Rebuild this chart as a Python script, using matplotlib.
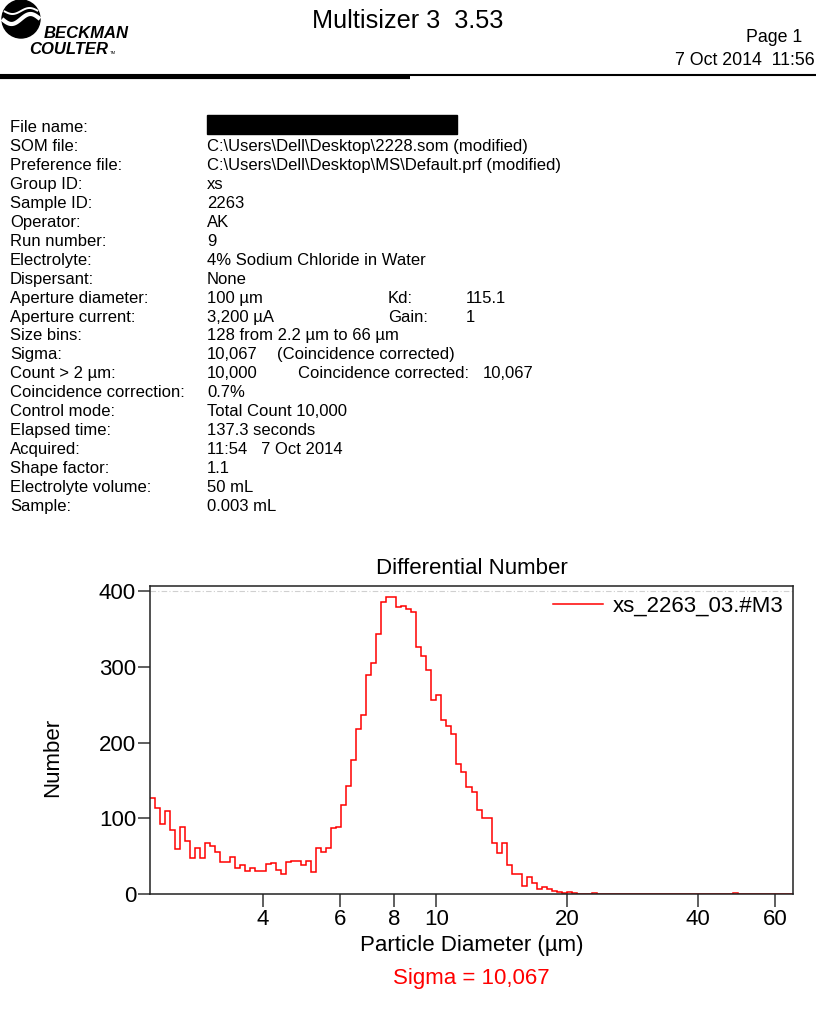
import numpy as np
import matplotlib
matplotlib.use("Agg")
import matplotlib.pyplot as plt
from matplotlib.patches import Circle, Rectangle
from matplotlib.ticker import FixedLocator, FixedFormatter, NullLocator

plt.rcParams['font.family'] = ['Liberation Sans', 'DejaVu Sans']

# ---------------- data ----------------
size_min, size_max, n_bins = 2.2, 66.0, 128
counts = [127, 113, 92, 110, 85, 60, 89, 70, 48, 61,
          47, 67, 64, 55, 42, 42, 49, 35, 38, 31,
          34, 30, 31, 40, 41, 32, 26, 42, 43, 44,
          38, 43, 29, 61, 56, 61, 87, 88, 118, 143,
          177, 218, 236, 289, 305, 344, 386, 393, 392, 379,
          380, 377, 373, 326, 315, 296, 256, 263, 230, 222,
          211, 172, 161, 142, 135, 111, 100, 101, 68, 54,
          68, 38, 26, 26, 11, 22, 15, 7, 9, 7,
          4, 3, 1, 2, 1, 0, 0, 0, 1, 0,
          0, 0, 0, 0, 0, 0, 0, 0, 0, 0,
          0, 0, 0, 0, 0, 0, 0, 0, 0, 0,
          0, 0, 0, 0, 0, 0, 1, 0, 0, 0,
          0, 0, 0, 0, 0, 0, 0, 0]
x_ticks = [4, 6, 8, 10, 20, 40, 60]
y_ticks = [0, 100, 200, 300, 400]
series_name = "xs_2263_03.#M3"
sigma_text = "Sigma = 10,067"

info_labels = ["File name:", "SOM file:", "Preference file:", "Group ID:", "Sample ID:",
               "Operator:", "Run number:", "Electrolyte:", "Dispersant:",
               "Aperture diameter:", "Aperture current:", "Size bins:", "Sigma:",
               "Count > 2 µm:", "Coincidence correction:", "Control mode:",
               "Elapsed time:", "Acquired:", "Shape factor:", "Electrolyte volume:",
               "Sample:"]
info_values = ["", "C:\\Users\\Dell\\Desktop\\2228.som (modified)",
               "C:\\Users\\Dell\\Desktop\\MS\\Default.prf (modified)",
               "xs", "2263", "AK", "9", "4% Sodium Chloride in Water", "None",
               "100 µm", "3,200 µA", "128 from 2.2 µm to 66 µm", "10,067",
               "10,000", "0.7%", "Total Count 10,000", "137.3 seconds",
               "11:54   7 Oct 2014", "1.1", "50 mL", "0.003 mL"]

# ---------------- figure ----------------
W, H = 816, 1013
fig = plt.figure(figsize=(W / 100, H / 100), dpi=100)
fig.patch.set_facecolor('white')

ov = fig.add_axes([0, 0, 1, 1])
ov.set_xlim(0, W)
ov.set_ylim(H, 0)
ov.axis('off')

# logo
ov.add_patch(Circle((21, 19), 19, color='black', zorder=2))
t = np.linspace(-19, 19, 100)
ov.plot(t + 21, 19 - 5 * np.sin(t / 19 * np.pi), color='white', lw=3.0, zorder=3, solid_capstyle='butt')
ov.plot(t * 0.9 + 21, 11 - 3 * np.sin(t / 19 * np.pi), color='white', lw=1.4, zorder=3, solid_capstyle='butt')
ov.text(44, 38, "BECKMAN", fontsize=12, fontweight='bold', style='italic', va='baseline', ha='left')
ov.text(29, 54, "COULTER", fontsize=12, fontweight='bold', style='italic', va='baseline', ha='left')
ov.text(110, 54, "TM", fontsize=3, va='baseline', ha='left')

# header
ov.text(408, 28, "Multisizer 3  3.53", fontsize=18.2, ha='center', va='baseline')
ov.text(802, 42, "Page 1", fontsize=12.8, ha='right', va='baseline')
ov.text(815, 65, "7 Oct 2014  11:56", fontsize=12.8, ha='right', va='baseline')
ov.plot([0, 816], [74.5, 74.5], color='black', lw=1.5, solid_capstyle='butt')
ov.plot([0, 410], [76.5, 76.5], color='black', lw=3.0, solid_capstyle='butt')

# info block
fs_info = 12.0
y0, dy = 126, 18.95
for i, (lab, val) in enumerate(zip(info_labels, info_values)):
    yb = y0 + i * dy + 6
    ov.text(10, yb, lab, fontsize=fs_info, va='baseline', ha='left')
    if val:
        ov.text(207, yb, val, fontsize=fs_info, va='baseline', ha='left')
ov.add_patch(Rectangle((207, 115), 250, 19, color='black'))
ov.text(388, y0 + 9 * dy + 6, "Kd:", fontsize=fs_info, va='baseline')
ov.text(466, y0 + 9 * dy + 6, "115.1", fontsize=fs_info, va='baseline')
ov.text(388, y0 + 10 * dy + 6, "Gain:", fontsize=fs_info, va='baseline')
ov.text(466, y0 + 10 * dy + 6, "1", fontsize=fs_info, va='baseline')
ov.text(277, y0 + 12 * dy + 6, "(Coincidence corrected)", fontsize=fs_info, va='baseline')
ov.text(298, y0 + 13 * dy + 6, "Coincidence corrected:", fontsize=fs_info, va='baseline')
ov.text(483, y0 + 13 * dy + 6, "10,067", fontsize=fs_info, va='baseline')

# sigma text
ov.text(471, 978, sigma_text, fontsize=16, color='red', ha='center', va='center')

# ---------------- chart ----------------
L, R, T, B = 150, 793, 586, 894
ax = fig.add_axes([L / W, 1 - B / H, (R - L) / W, (B - T) / H])
edges = np.geomspace(size_min, size_max, n_bins + 1)
ax.stairs(counts, edges, baseline=None, color='red', lw=1.1, label=series_name)
ax.set_xscale('log')
ax.set_xlim(size_min, size_max)
ax.set_ylim(0, 407)
ax.axhline(400, color='#d0d0d0', lw=0.8, ls=(0, (5, 2, 1, 2)), zorder=0)

ax.xaxis.set_major_locator(FixedLocator(x_ticks))
ax.xaxis.set_major_formatter(FixedFormatter([str(v) for v in x_ticks]))
ax.xaxis.set_minor_locator(NullLocator())
ax.set_yticks(y_ticks)
ax.tick_params(axis='both', direction='out', length=9, width=1.1, labelsize=16, color='#333333')
ax.tick_params(axis='y', pad=1)
ax.tick_params(axis='x', pad=2)
for s in ax.spines.values():
    s.set_color('#222222')
    s.set_linewidth(1.1)

ax.set_title("Differential Number", fontsize=16, pad=9)
ax.set_xlabel("Particle Diameter (µm)", fontsize=16)
ax.set_ylabel("Number", fontsize=16)
ax.xaxis.set_label_coords(0.5, -0.133)
ax.yaxis.set_label_coords(-0.135, 0.445)

leg = ax.legend(loc='upper right', frameon=False, fontsize=16, handlelength=2.25,
                borderaxespad=0.18, borderpad=0.25, handletextpad=0.42)

fig.savefig("out.png", dpi=100, facecolor='white')
